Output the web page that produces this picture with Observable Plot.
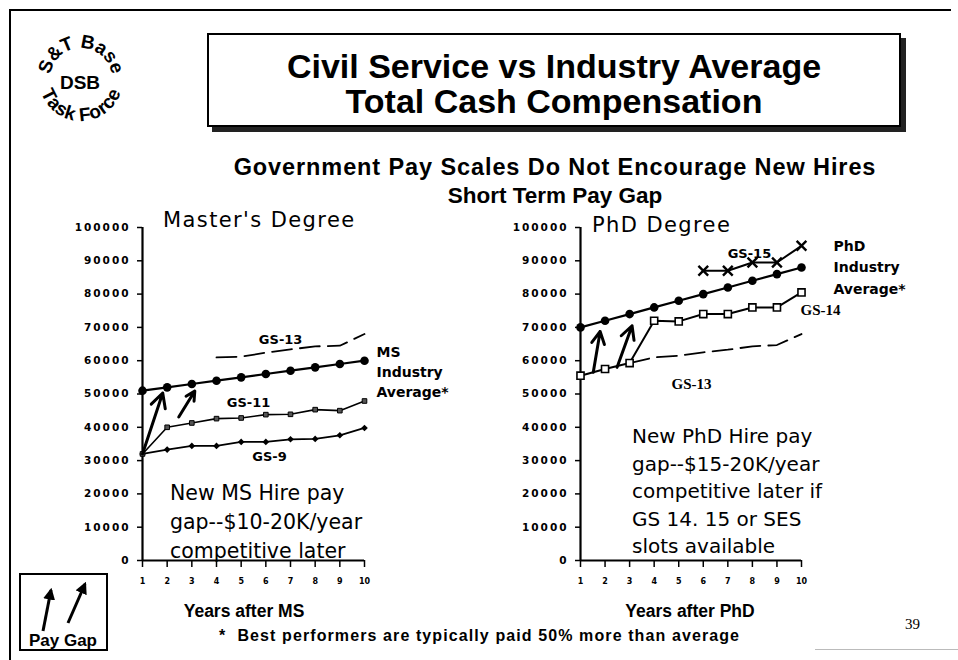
<!DOCTYPE html>
<html><head><meta charset="utf-8">
<script src="https://cdn.jsdelivr.net/npm/d3@7"></script>
<script src="https://cdn.jsdelivr.net/npm/@observablehq/plot@0.6"></script>
<style>
body{margin:0;background:#fff;}
#page{position:relative;width:958px;height:660px;overflow:hidden;background:#fff;font-family:"Liberation Sans",Arial,sans-serif;color:#000;}
.abs{position:absolute;white-space:nowrap;}
.chart{position:absolute;top:0;}
.chart g[aria-label="y-axis tick label"] text{letter-spacing:2px;}
.title{left:207px;top:33px;width:694px;height:94px;border:2px solid #000;box-shadow:5px 5px 0 #222;font-weight:bold;font-size:34px;line-height:35px;text-align:center;padding-top:14px;box-sizing:border-box;}
.sub{font-weight:bold;font-size:23.5px;letter-spacing:0.9px;width:700px;left:205px;text-align:center;}
.panel{font-family:"DejaVu Sans";font-size:21px;letter-spacing:1.4px;}
.note{font-family:"DejaVu Sans";font-size:20.5px;}
.xlab{font-weight:bold;font-size:17.5px;text-align:center;width:200px;}
</style></head><body>
<div id="page">
  <div class="abs" style="left:9px;top:9px;width:2px;height:660px;background:#000"></div>
  <div class="abs" style="left:9px;top:9px;width:942px;height:2px;background:#000"></div>
  <div class="abs" style="left:815px;top:649px;width:143px;height:1px;background:#bbb"></div>
  <svg class="abs" style="left:0;top:0" width="160" height="140" id="logo" font-family="Liberation Sans" font-weight="bold">
    <text x="80" y="89" font-size="19" text-anchor="middle">DSB</text>
  </svg>
  <div class="abs title">Civil Service vs Industry Average<br>Total Cash Compensation</div>
  <div class="abs sub" style="top:154px">Government Pay Scales Do Not Encourage New Hires</div>
  <div class="abs sub" style="top:183px;font-size:22.5px;letter-spacing:0">Short Term Pay Gap</div>
  <div id="charts"></div>
  <div class="abs panel" style="left:163px;top:208px">Master's Degree</div>
  <div class="abs panel" style="left:592px;top:213px">PhD Degree</div>
  <div class="abs note" style="left:170px;top:479px;line-height:29px">New MS Hire pay<br>gap--$10-20K/year<br>competitive later</div>
  <div class="abs note" style="left:632px;top:423px;line-height:27.6px;font-size:20px">New PhD Hire pay<br>gap--$15-20K/year<br>competitive later if<br>GS 14. 15 or SES<br>slots available</div>
  <div class="abs xlab" style="left:144px;top:601px">Years after MS</div>
  <div class="abs xlab" style="left:590px;top:601px">Years after PhD</div>
  <div class="abs" style="left:219px;top:627px;font-weight:bold;font-size:16px;letter-spacing:1.1px">*&nbsp; Best performers are typically paid 50% more than average</div>
  <div class="abs" style="left:905px;top:616px;font-family:'Liberation Serif';font-size:15px">39</div>
  <svg class="abs" style="left:0;top:560px" width="120" height="100">
    <defs><marker id="ah" viewBox="0 0 10 10" refX="8" refY="5" markerWidth="4" markerHeight="4" orient="auto"><path d="M0,0 L10,5 L0,10 z" fill="#000"/></marker></defs>
    <rect x="20" y="14" width="87" height="76" fill="none" stroke="#000" stroke-width="2"/>
    <line x1="43" y1="71" x2="51" y2="30" stroke="#000" stroke-width="3" marker-end="url(#ah)"/>
    <line x1="68" y1="63" x2="85" y2="24" stroke="#000" stroke-width="3" marker-end="url(#ah)"/>
    <text x="63" y="86" text-anchor="middle" font-family="Liberation Sans" font-weight="bold" font-size="17">Pay Gap</text>
  </svg>
</div>
<script>
// ---- shared axes ----
const years = [1, 2, 3, 4, 5, 6, 7, 8, 9, 10];
const yTicks = [0, 10000, 20000, 30000, 40000, 50000, 60000, 70000, 80000, 90000, 100000];

// ---- Master's Degree panel ----
const msIndustry = [51000, 52000, 53000, 54000, 55000, 56000, 57000, 58000, 59000, 60000];
const msGS11 = [32000, 40000, 41300, 42600, 42800, 43800, 43900, 45300, 45000, 47900];
const msGS9 = [32000, 33300, 34400, 34400, 35600, 35600, 36400, 36500, 37600, 39800];
const msGS13Years = [4, 5, 6, 7, 8, 9, 10];
const msGS13 = [61000, 61200, 62400, 63400, 64300, 64500, 68000];
const msArrowFrom = [[1, 32000], [2.47, 43100]];
const msArrowTo = [[1.82, 50300], [3.12, 50900]];

// ---- PhD Degree panel ----
const phdIndustry = [70000, 72000, 74000, 76000, 78000, 80000, 82000, 84000, 86000, 88000];
const phdGS14 = [55500, 57500, 59300, 72000, 71800, 74000, 74000, 76000, 76000, 80500];
const phdGS15Years = [6, 7, 8, 9, 10];
const phdGS15 = [87000, 87000, 89500, 89500, 94500];
const phdGS13Years = [3, 4, 5, 6, 7, 8, 9, 10];
const phdGS13 = [59300, 61000, 61500, 62500, 63300, 64300, 64700, 68000];
const phdArrowFrom = [[1.52, 56500], [2.49, 58000]];
const phdArrowTo = [[1.8, 68800], [3.1, 70500]];

// ---- logo: text set on a circle, one glyph at a time ----
(function logo() {
  const svg = d3.select("#logo");
  function arcText(str, cx, cy, r, top, size, spacing) {
    const tmp = svg.append("text").attr("font-size", size);
    const widths = Array.from(str, (ch) => { tmp.text(ch === " " ? "\u00a0" : ch); return tmp.node().getComputedTextLength() + spacing; });
    tmp.remove();
    const total = d3.sum(widths);
    let s = -total / 2;
    Array.from(str).forEach((ch, i) => {
      const mid = s + widths[i] / 2; s += widths[i];
      if (ch === " ") return;
      const a = top ? -90 + (mid / r) * 180 / Math.PI : 90 - (mid / r) * 180 / Math.PI;
      const rad = a * Math.PI / 180;
      const x = cx + r * Math.cos(rad), y = cy + r * Math.sin(rad);
      const rot = top ? a + 90 : a - 90;
      svg.append("text").attr("font-size", size).attr("text-anchor", "middle")
        .attr("transform", `translate(${x.toFixed(1)},${y.toFixed(1)}) rotate(${rot.toFixed(1)})`).text(ch);
    });
  }
  arcText("S&T Base", 81, 79, 31, true, 19, 0);
  arcText("Task Force", 81, 79, 42, false, 19, 0.5);
})();

const rows = (xs, ys) => xs.map((x, i) => ({x, y: ys[i]}));
const arrows = (from, to) => from.map((f, i) => ({x1: f[0], y1: f[1], x2: to[i][0], y2: to[i][1]}));
const lab = {fontFamily: "DejaVu Sans", fontWeight: "bold", fontSize: 13};
const serifLab = {fontFamily: "Liberation Serif", fontWeight: "bold", fontSize: 15};

function frame(opts, marks) {
  return Plot.plot({
    ...opts,
    height: 660,
    marginTop: 227, marginBottom: 100,
    className: "chart",
    x: {domain: [1, 10], axis: null},
    y: {domain: [0, 100000], axis: null},
    style: {background: "transparent", fontFamily: "DejaVu Sans", overflow: "visible"},
    marks: [
      Plot.axisY({ticks: yTicks, tickSize: 5, tickPadding: 7, tickFormat: d3.format("d"), fontWeight: "bold", fontSize: 10.5, label: null, strokeWidth: 1.5}),
      Plot.axisX({ticks: years, tickSize: 7, tickPadding: 11, fontWeight: "bold", fontSize: 8, label: null, strokeWidth: 1.5}),
      Plot.ruleX([1], {strokeWidth: 2.2}),
      Plot.ruleY([0], {strokeWidth: 2}),
      ...marks
    ]
  });
}

const ms = frame({width: 480, marginLeft: 142, marginRight: 116}, [
  Plot.line(rows(msGS13Years, msGS13), {x: "x", y: "y", strokeWidth: 1.8, strokeDasharray: "20,8"}),
  Plot.line(rows(years, msGS9), {x: "x", y: "y", strokeWidth: 1.8}),
  Plot.dot(rows(years, msGS9), {x: "x", y: "y", symbol: "diamond2", r: 3, fill: "black"}),
  Plot.line(rows(years, msGS11), {x: "x", y: "y", strokeWidth: 1.6}),
  Plot.dot(rows(years, msGS11), {x: "x", y: "y", symbol: "square", r: 2.6, fill: "#555", stroke: "black", strokeWidth: 1}),
  Plot.line(rows(years, msIndustry), {x: "x", y: "y", strokeWidth: 2.2}),
  Plot.dot(rows(years, msIndustry), {x: "x", y: "y", r: 4.3, fill: "black"}),
  Plot.arrow(arrows(msArrowFrom, msArrowTo), {x1: "x1", y1: "y1", x2: "x2", y2: "y2", strokeWidth: 3, headLength: 8, headAngle: 55}),
  Plot.text([{x: 6.6, y: 66300, t: "GS-13"}], {x: "x", y: "y", text: "t", ...lab}),
  Plot.text([{x: 5.3, y: 47200, t: "GS-11"}], {x: "x", y: "y", text: "t", ...lab}),
  Plot.text([{x: 6.15, y: 31000, t: "GS-9"}], {x: "x", y: "y", text: "t", ...lab}),
  Plot.text(rows(years, msIndustry), Plot.selectLast({x: "x", y: "y", text: () => "MS\nIndustry\nAverage*", textAnchor: "start", dx: 12, dy: 10, lineHeight: 1.43, ...lab, fontSize: 14}))
]);
ms.style.left = "0px";

const phd = frame({width: 479, marginLeft: 101, marginRight: 157}, [
  Plot.line(rows(phdGS13Years, phdGS13), {x: "x", y: "y", strokeWidth: 1.8, strokeDasharray: "20,8"}),
  Plot.line(rows(years, phdGS14), {x: "x", y: "y", strokeWidth: 2}),
  Plot.dot(rows(years, phdGS14), {x: "x", y: "y", symbol: "square", r: 4, fill: "white", stroke: "black", strokeWidth: 1.6}),
  Plot.line(rows(years, phdIndustry), {x: "x", y: "y", strokeWidth: 2.2}),
  Plot.dot(rows(years, phdIndustry), {x: "x", y: "y", r: 4.3, fill: "black"}),
  Plot.line(rows(phdGS15Years, phdGS15), {x: "x", y: "y", strokeWidth: 2}),
  Plot.dot(rows(phdGS15Years, phdGS15), {x: "x", y: "y", symbol: "times", r: 4.5, stroke: "black", strokeWidth: 2.4}),
  Plot.arrow(arrows(phdArrowFrom, phdArrowTo), {x1: "x1", y1: "y1", x2: "x2", y2: "y2", strokeWidth: 3, headLength: 8, headAngle: 55}),
  Plot.text([{x: 7.88, y: 92200, t: "GS-15"}], {x: "x", y: "y", text: "t", ...lab}),
  Plot.text(rows(years, phdGS14), Plot.selectLast({x: "x", y: "y", text: () => "GS-14", textAnchor: "start", dx: -1, dy: 18, ...serifLab})),
  Plot.text([{x: 5.52, y: 53000, t: "GS-13"}], {x: "x", y: "y", text: "t", ...serifLab}),
  Plot.text(rows(years, phdIndustry), Plot.selectLast({x: "x", y: "y", text: () => "PhD\nIndustry\nAverage*", textAnchor: "start", dx: 32, dy: -2, lineHeight: 1.53, ...lab, fontSize: 14}))
]);
phd.style.left = "479px";

const holder = document.getElementById("charts");
holder.appendChild(ms);
holder.appendChild(phd);
</script>
</body></html>
